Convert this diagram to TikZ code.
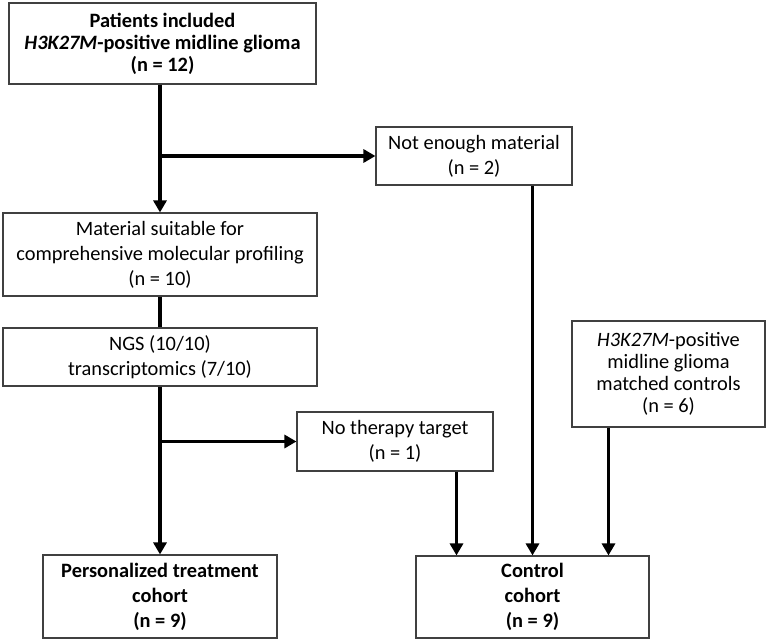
\documentclass[tikz,border=0pt]{standalone}
\usepackage{fontspec}
\setmainfont{Carlito}
\usetikzlibrary{arrows.meta}
\definecolor{boxgray}{HTML}{404040}
\tikzset{
  box/.style={draw=boxgray, line width=1.1pt, fill=white, align=center, inner sep=0pt,
    font=\fontsize{20.4}{25}\selectfont, text=black},
  tight/.style={font=\fontsize{20.4}{22}\selectfont},
  arr/.style={line width=3.6pt, -{Triangle[width=13pt,length=12pt]}},
  ln/.style={line width=3.6pt}
}
\begin{document}
\begin{tikzpicture}[x=1pt,y=-1pt]
\useasboundingbox (0,0) rectangle (767,640);
\node[box, tight, minimum width=307pt, minimum height=81pt] (top) at (162.5,43.5)
  {\textbf{Patients included}\\\textbf{\textit{H3K27M}-positive midline glioma}\\\textbf{(n = 12)}};
\node[box, minimum width=196pt, minimum height=58pt] (notenough) at (474,156)
  {Not enough material\\(n = 2)};
\node[box, minimum width=314pt, minimum height=83pt] (material) at (160,254.5)
  {Material suitable for\\comprehensive molecular profiling\\(n = 10)};
\node[box, minimum width=314pt, minimum height=58pt] (ngs) at (160,357)
  {NGS (10/10)\\transcriptomics (7/10)};
\node[box, minimum width=196pt, minimum height=59pt] (notarget) at (395,441.5)
  {No therapy target\\(n = 1)};
\node[box, tight, minimum width=193pt, minimum height=106pt] (matched) at (668.5,374)
  {\textit{H3K27M}-positive\\midline glioma\\matched controls\\(n = 6)};
\node[box, minimum width=234pt, minimum height=83pt] (pers) at (160,596.5)
  {\textbf{Personalized treatment}\\\textbf{cohort}\\\textbf{(n = 9)}};
\node[box, minimum width=233pt, minimum height=82pt] (control) at (532.5,597)
  {\textbf{Control}\\\textbf{cohort}\\\textbf{(n = 9)}};
\coordinate (cL) at ([xshift=-76pt]control.north);
\coordinate (cR) at ([xshift=76pt]control.north);
\draw[arr] (material.north |- top.south) -- (material.north);
\draw[arr] (material.north |- notenough.west) -- (notenough.west);
\draw[arr] (notenough.south -| control.north) -- (control.north);
\draw[ln] (material.south) -- (ngs.north);
\draw[arr] (ngs.south) -- (pers.north);
\draw[arr] (ngs.south |- notarget.west) -- (notarget.west);
\draw[arr] (notarget.south -| cL) -- (cL);
\draw[arr] (matched.south -| cR) -- (cR);
\end{tikzpicture}
\end{document}
